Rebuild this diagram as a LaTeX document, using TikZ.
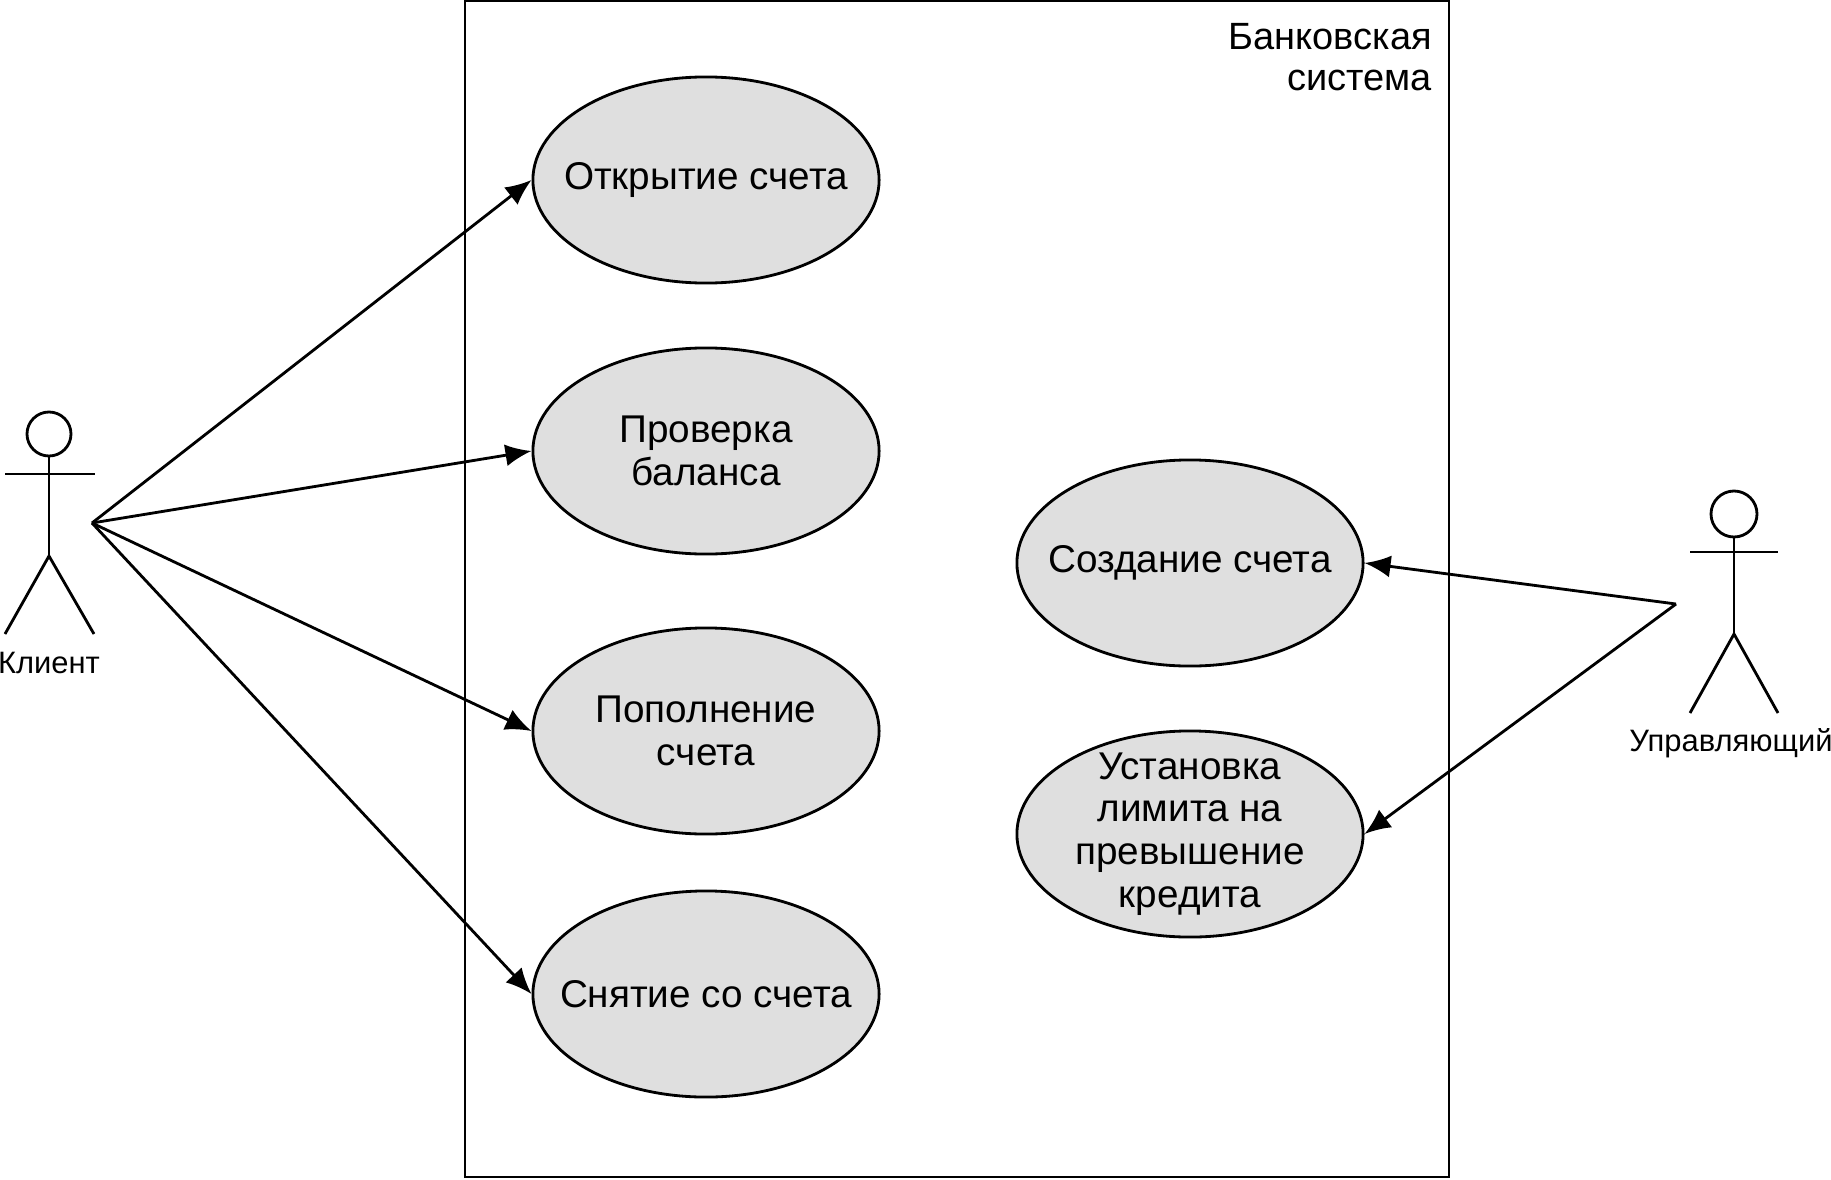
\documentclass[tikz,border=0pt]{standalone}
\usepackage{fontspec}
\setmainfont{Liberation Sans}
\usetikzlibrary{shapes.geometric,arrows.meta}
\begin{document}
\begin{tikzpicture}[x=0.01cm,y=-0.01cm,thick,
  usecase/.style={draw,ellipse,fill=gray!25,minimum width=3.46cm,minimum height=2.06cm,inner xsep=-0.35cm,inner ysep=-0.3cm,align=center,font=\fontsize{11}{12.15}\selectfont},
  actorlabel/.style={anchor=center,font=\fontsize{8.8}{9}\selectfont},
  link/.style={-{Latex[length=0.26cm,width=0.22cm]}}]
  \useasboundingbox (0,0) rectangle (1831,1179);

  % System frame
  \draw (465,1) rectangle (1449,1177);
  \node[anchor=north east,align=right,font=\fontsize{10.8}{11.8}\selectfont] (bank) at (1445,10) {Банковская\\система};

  % Use cases
  \node[usecase] (open) at (706,180) {Открытие счета};
  \node[usecase] (balance) at (706,451) {Проверка\\баланса};
  \node[usecase] (deposit) at (706,731) {Пополнение\\счета};
  \node[usecase] (withdraw) at (706,994) {Снятие со счета};
  \node[usecase] (create) at (1190,563) {Создание счета};
  \node[usecase] (limit) at (1190,834) {Установка\\лимита на\\превышение\\кредита};

  % Client actor
  \draw (49,434) circle (22);
  \draw (5,474) -- (95,474);
  \draw (49,456) -- (49,556);
  \draw (5,634) -- (49,556) -- (94,634);
  \node[actorlabel] (client) at (49,663) {Клиент};
  \coordinate (clientport) at (92,523);

  % Manager actor
  \draw (1734,514) circle (23);
  \draw (1690,552) -- (1778,552);
  \draw (1734,537) -- (1734,634);
  \draw (1690,713) -- (1734,634) -- (1778,713);
  \node[actorlabel] (manager) at (1731,743) {Управляющий};
  \coordinate (managerport) at (1676,604);

  % Arrows
  \draw[link] (clientport) -- (open.west);
  \draw[link] (clientport) -- (balance.west);
  \draw[link] (clientport) -- (deposit.west);
  \draw[link] (clientport) -- (withdraw.west);
  \draw[link] (managerport) -- (create.east);
  \draw[link] (managerport) -- (limit.east);
\end{tikzpicture}
\end{document}
